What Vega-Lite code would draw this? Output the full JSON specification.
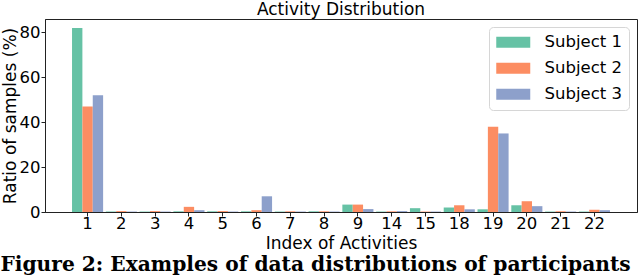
{
  "$schema": "https://vega.github.io/schema/vega-lite/v6.json",
  "padding": {"left": 0, "top": 0, "right": 4, "bottom": 0},
  "background": "white",
  "title": {
    "text": "Figure 2: Examples of data distributions of participants",
    "orient": "bottom",
    "anchor": "start",
    "font": "DejaVu Serif",
    "fontSize": 20.2,
    "fontWeight": "bold",
    "color": "black",
    "offset": 3
  },
  "data": {
    "values": [
      {"activity": 1, "subject": "Subject 1", "ratio": 82},
      {"activity": 1, "subject": "Subject 2", "ratio": 47},
      {"activity": 1, "subject": "Subject 3", "ratio": 52},
      {"activity": 2, "subject": "Subject 1", "ratio": 0.2},
      {"activity": 2, "subject": "Subject 2", "ratio": 0.4},
      {"activity": 2, "subject": "Subject 3", "ratio": 0.2},
      {"activity": 3, "subject": "Subject 1", "ratio": 0.2},
      {"activity": 3, "subject": "Subject 2", "ratio": 0.4},
      {"activity": 3, "subject": "Subject 3", "ratio": 0.2},
      {"activity": 4, "subject": "Subject 1", "ratio": 0.3},
      {"activity": 4, "subject": "Subject 2", "ratio": 2.3},
      {"activity": 4, "subject": "Subject 3", "ratio": 0.8},
      {"activity": 5, "subject": "Subject 1", "ratio": 0.3},
      {"activity": 5, "subject": "Subject 2", "ratio": 0.4},
      {"activity": 5, "subject": "Subject 3", "ratio": 0.2},
      {"activity": 6, "subject": "Subject 1", "ratio": 0.3},
      {"activity": 6, "subject": "Subject 2", "ratio": 0.8},
      {"activity": 6, "subject": "Subject 3", "ratio": 7},
      {"activity": 7, "subject": "Subject 1", "ratio": 0.2},
      {"activity": 7, "subject": "Subject 2", "ratio": 0.3},
      {"activity": 7, "subject": "Subject 3", "ratio": 0.2},
      {"activity": 8, "subject": "Subject 1", "ratio": 0.3},
      {"activity": 8, "subject": "Subject 2", "ratio": 0.3},
      {"activity": 8, "subject": "Subject 3", "ratio": 0.2},
      {"activity": 9, "subject": "Subject 1", "ratio": 3.3},
      {"activity": 9, "subject": "Subject 2", "ratio": 3.3},
      {"activity": 9, "subject": "Subject 3", "ratio": 1.3},
      {"activity": 14, "subject": "Subject 1", "ratio": 0.2},
      {"activity": 14, "subject": "Subject 2", "ratio": 0.3},
      {"activity": 14, "subject": "Subject 3", "ratio": 0.4},
      {"activity": 15, "subject": "Subject 1", "ratio": 1.7},
      {"activity": 15, "subject": "Subject 2", "ratio": 0.2},
      {"activity": 15, "subject": "Subject 3", "ratio": 0.2},
      {"activity": 18, "subject": "Subject 1", "ratio": 2.0},
      {"activity": 18, "subject": "Subject 2", "ratio": 3.0},
      {"activity": 18, "subject": "Subject 3", "ratio": 1.2},
      {"activity": 19, "subject": "Subject 1", "ratio": 1.2},
      {"activity": 19, "subject": "Subject 2", "ratio": 38},
      {"activity": 19, "subject": "Subject 3", "ratio": 35},
      {"activity": 20, "subject": "Subject 1", "ratio": 3.0},
      {"activity": 20, "subject": "Subject 2", "ratio": 4.8},
      {"activity": 20, "subject": "Subject 3", "ratio": 2.6},
      {"activity": 21, "subject": "Subject 1", "ratio": 0.2},
      {"activity": 21, "subject": "Subject 2", "ratio": 0.3},
      {"activity": 21, "subject": "Subject 3", "ratio": 0.2},
      {"activity": 22, "subject": "Subject 1", "ratio": 0.2},
      {"activity": 22, "subject": "Subject 2", "ratio": 1.0},
      {"activity": 22, "subject": "Subject 3", "ratio": 0.8}
    ]
  },
  "vconcat": [
    {
      "width": 592,
      "height": 193,
      "title": {
        "text": "Activity Distribution",
        "font": "DejaVu Sans",
        "fontSize": 17,
        "fontWeight": "normal",
        "color": "black",
        "anchor": "middle",
        "offset": 0
      },
      "mark": {"type": "bar"},
      "encoding": {
        "x": {
          "field": "activity",
          "type": "ordinal",
          "scale": {"paddingInner": 0.08, "paddingOuter": 0.8},
          "axis": {"title": "Index of Activities", "labelAngle": 0, "titlePadding": 4, "labelPadding": -1}
        },
        "xOffset": {"field": "subject", "type": "nominal", "scale": {"paddingInner": 0, "paddingOuter": 0}},
        "y": {
          "field": "ratio",
          "type": "quantitative",
          "scale": {"domain": [0, 86], "nice": false},
          "axis": {"title": "Ratio of samples (%)", "values": [0, 20, 40, 60, 80], "titlePadding": 0, "labelPadding": 1}
        },
        "color": {
          "field": "subject",
          "type": "nominal",
          "scale": {"range": ["#66c2a5", "#fc8d62", "#8da0cb"]},
          "legend": {
            "title": null,
            "orient": "top-right",
            "offset": 8,
            "fillColor": "white",
            "strokeColor": "#d6d6d6",
            "cornerRadius": 4,
            "padding": 7,
            "symbolType": "M-2.125,-0.6875L2.125,-0.6875L2.125,0.6875L-2.125,0.6875Z",
            "symbolSize": 256,
            "symbolOffset": 9,
            "symbolStrokeWidth": 0,
            "symbolOpacity": 1,
            "labelFont": "DejaVu Sans",
            "labelFontSize": 16.5,
            "labelColor": "black",
            "labelOffset": 23,
            "rowPadding": 9
          }
        }
      }
    }
  ],
  "config": {
    "view": {"stroke": "#222", "strokeWidth": 1},
    "axis": {
      "grid": false,
      "labelFont": "DejaVu Sans",
      "labelFontSize": 16.5,
      "labelColor": "black",
      "titleFont": "DejaVu Sans",
      "titleFontSize": 17,
      "titleFontWeight": "normal",
      "titleColor": "black",
      "tickColor": "#222",
      "domainColor": "#222",
      "tickSize": 4,
      "labelPadding": 2
    }
  }
}
